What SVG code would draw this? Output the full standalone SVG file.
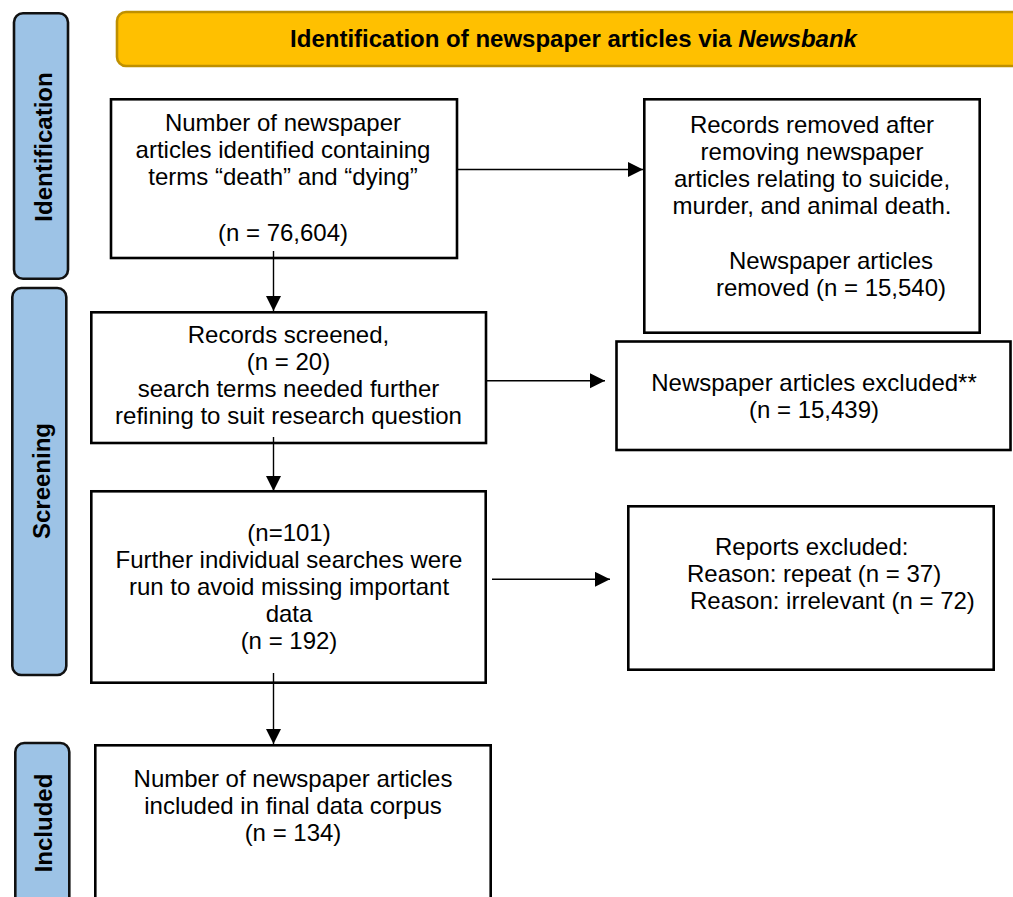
<svg xmlns="http://www.w3.org/2000/svg" width="1013" height="897" viewBox="0 0 1013 897">
<style>
  text { font-family: "Liberation Sans", Arial, sans-serif; font-size: 24px; fill: #000; }
  .c { text-anchor: middle; }
  .b { font-weight: bold; }
  .box { fill: #fff; stroke: #000; stroke-width: 2.6; }
  .side { fill: #9DC3E6; stroke: #111; stroke-width: 2.6; }
  .conn line { stroke: #000; stroke-width: 1.4; marker-end: url(#arr); }
</style>
<defs>
  <marker id="arr" markerUnits="userSpaceOnUse" markerWidth="16" markerHeight="16" refX="15" refY="7.5" orient="auto">
    <path d="M0,0 L15,7.5 L0,15 Z" fill="#000"/>
  </marker>
</defs>
<rect width="1013" height="897" fill="#fff"/>

<g id="banner">
  <rect x="117" y="12" width="930" height="54" rx="9" fill="#FFC000" stroke="#BF9000" stroke-width="2.6"/>
  <text class="c b" x="573.5" y="47">Identification of newspaper articles via <tspan font-style="italic">Newsbank</tspan></text>
</g>

<g id="side-identification">
  <rect class="side" x="14" y="13.3" width="54" height="265.5" rx="9"/>
  <text class="c b" transform="translate(52,147) rotate(-90)">Identification</text>
</g>
<g id="side-screening">
  <rect class="side" x="12.3" y="288" width="54" height="387" rx="9"/>
  <text class="c b" transform="translate(50,481) rotate(-90)">Screening</text>
</g>
<g id="side-included">
  <rect class="side" x="15.3" y="743" width="54" height="200" rx="9"/>
  <text class="c b" transform="translate(52,823) rotate(-90)">Included</text>
</g>

<g id="box-identified">
  <rect class="box" x="111" y="99.3" width="346" height="158.7"/>
  <text class="c" x="283" y="131">Number of newspaper</text>
  <text class="c" x="283" y="158">articles identified containing</text>
  <text class="c" x="283" y="185">terms “death” and “dying”</text>
  <text class="c" x="283" y="241">(n = 76,604)</text>
</g>

<g id="box-removed">
  <rect class="box" x="644.3" y="99.3" width="335.4" height="233.4"/>
  <text class="c" x="812" y="133">Records removed after</text>
  <text class="c" x="812" y="160">removing newspaper</text>
  <text class="c" x="812" y="187">articles relating to suicide,</text>
  <text class="c" x="812" y="214">murder, and animal death.</text>
  <text class="c" x="831" y="269">Newspaper articles</text>
  <text class="c" x="831" y="296">removed (n = 15,540)</text>
</g>

<g id="box-screened">
  <rect class="box" x="91.3" y="312.3" width="394.7" height="130.7"/>
  <text class="c" x="288.5" y="343">Records screened,</text>
  <text class="c" x="288.5" y="370">(n = 20)</text>
  <text class="c" x="288.5" y="397">search terms needed further</text>
  <text class="c" x="288.5" y="424">refining to suit research question</text>
</g>

<g id="box-excluded">
  <rect class="box" x="616.5" y="341.5" width="394" height="108.5"/>
  <text class="c" x="814" y="391">Newspaper articles excluded**</text>
  <text class="c" x="814" y="418">(n = 15,439)</text>
</g>

<g id="box-further">
  <rect class="box" x="91.3" y="491.3" width="394.4" height="191.4"/>
  <text class="c" x="289" y="541">(n=101)</text>
  <text class="c" x="289" y="568">Further individual searches were</text>
  <text class="c" x="289" y="595">run to avoid missing important</text>
  <text class="c" x="289" y="622">data</text>
  <text class="c" x="289" y="649">(n = 192)</text>
</g>

<g id="box-reports">
  <rect class="box" x="628.3" y="506.3" width="365.4" height="163.4"/>
  <text x="715" y="555">Reports excluded:</text>
  <text x="687" y="582">Reason: repeat (n = 37)</text>
  <text x="690" y="609">Reason: irrelevant (n = 72)</text>
</g>

<g id="box-included">
  <rect class="box" x="95.3" y="745.3" width="395.4" height="170"/>
  <text class="c" x="293" y="787">Number of newspaper articles</text>
  <text class="c" x="293" y="814">included in final data corpus</text>
  <text class="c" x="293" y="841">(n = 134)</text>
</g>

<g id="connectors" class="conn">
  <line x1="458" y1="169.5" x2="643" y2="169.5"/>
  <line x1="273.5" y1="251" x2="273.5" y2="311"/>
  <line x1="487" y1="380.7" x2="605" y2="380.7"/>
  <line x1="273.5" y1="437" x2="273.5" y2="491"/>
  <line x1="492" y1="579.3" x2="610" y2="579.3"/>
  <line x1="273.5" y1="673" x2="273.5" y2="744"/>
</g>
</svg>
